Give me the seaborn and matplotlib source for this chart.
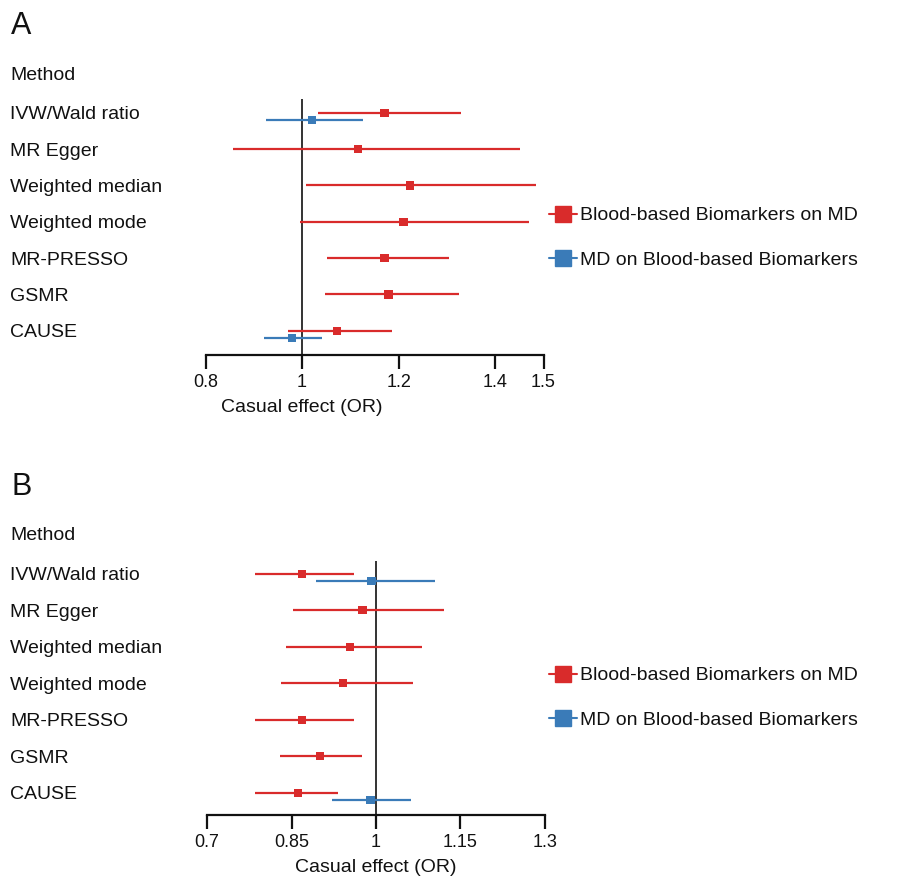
import numpy as np
import pandas as pd
import matplotlib
matplotlib.use('Agg')
import matplotlib.pyplot as plt
import matplotlib.transforms as mtransforms
from matplotlib.lines import Line2D
import seaborn as sns

sns.set_theme(style='ticks')
plt.rcParams['font.family'] = ['Liberation Sans', 'DejaVu Sans']
plt.rcParams['text.color'] = '#111111'

methods = ['IVW/Wald ratio', 'MR Egger', 'Weighted median', 'Weighted mode',
           'MR-PRESSO', 'GSMR', 'CAUSE']
groups = ['Blood-based Biomarkers on MD', 'MD on Blood-based Biomarkers']
palette = {groups[0]: '#d92b2b', groups[1]: '#3a7bb8'}

# panel A : forward direction (all methods)
a_fwd_or = [1.171, 1.116, 1.224, 1.210, 1.171, 1.179, 1.073]
a_fwd_lo = [1.033, 0.856, 1.008, 0.996, 1.052, 1.047, 0.970]
a_fwd_hi = [1.329, 1.451, 1.484, 1.471, 1.305, 1.326, 1.187]
# panel A : reverse direction
a_rev_methods = ['IVW/Wald ratio', 'CAUSE']
a_rev_or = [1.021, 0.979]
a_rev_lo = [0.925, 0.921]
a_rev_hi = [1.127, 1.041]
a_ticks = [0.8, 1, 1.2, 1.4, 1.5]
a_ticklabels = ['0.8', '1', '1.2', '1.4', '1.5']

# panel B : forward direction
b_fwd_or = [0.869, 0.976, 0.954, 0.941, 0.869, 0.900, 0.861]
b_fwd_lo = [0.785, 0.852, 0.841, 0.832, 0.785, 0.830, 0.786]
b_fwd_hi = [0.961, 1.120, 1.082, 1.065, 0.961, 0.976, 0.933]
# panel B : reverse direction
b_rev_methods = ['IVW/Wald ratio', 'CAUSE']
b_rev_or = [0.992, 0.990]
b_rev_lo = [0.894, 0.922]
b_rev_hi = [1.104, 1.063]
b_ticks = [0.7, 0.85, 1, 1.15, 1.3]
b_ticklabels = ['0.7', '0.85', '1', '1.15', '1.3']

offsets = {groups[0]: -0.06, groups[1]: 0.14}


def make_df(fwd_or, fwd_lo, fwd_hi, rev_methods, rev_or, rev_lo, rev_hi):
    d1 = pd.DataFrame({'method': methods, 'or': fwd_or, 'lo': fwd_lo, 'hi': fwd_hi,
                       'group': groups[0]})
    d2 = pd.DataFrame({'method': rev_methods, 'or': rev_or, 'lo': rev_lo, 'hi': rev_hi,
                       'group': groups[1]})
    df = pd.concat([d1, d2], ignore_index=True)
    df['y'] = df['method'].map({m: i for i, m in enumerate(methods)}) + df['group'].map(offsets)
    return df


def forest(fig, rect, df, xlim, ylim, ticks, ticklabels, letter, letter_y, legend_y):
    ax = fig.add_axes(rect)
    for g in groups:
        sub = df[df['group'] == g]
        ax.hlines(sub['y'], sub['lo'], sub['hi'], color=palette[g], lw=1.6, zorder=2)
    sns.scatterplot(data=df, x='or', y='y', hue='group', palette=palette, marker='s',
                    s=36, linewidth=0, legend=False, ax=ax, zorder=3)
    ax.axvline(1, color='#333333', lw=1.4, zorder=1)
    ax.set_xlim(*xlim)
    ax.set_ylim(*ylim)
    ax.set_xticks(ticks)
    ax.set_xticklabels(ticklabels)
    ax.set_yticks([])
    ax.set_ylabel('')
    ax.set_xlabel('')
    ax.tick_params(axis='x', length=10, width=1.6, pad=3.5, labelsize=13, colors='#111111')
    sns.despine(ax=ax, left=True)
    ax.spines['bottom'].set_linewidth(1.6)
    ax.spines['bottom'].set_color('#111111')
    ax.annotate('Casual effect (OR)', xy=(1, 0), xycoords=('data', 'axes fraction'),
                xytext=(0, -53), textcoords='offset pixels', ha='center', va='center',
                fontsize=14)

    trans = mtransforms.blended_transform_factory(fig.transFigure, ax.transData)
    ax.text(10 / 909, -1.1, 'Method', transform=trans, ha='left', va='center', fontsize=14)
    for i, m in enumerate(methods):
        ax.text(10 / 909, i, m, transform=trans, ha='left', va='center', fontsize=14)

    fig.text(11 / 909, letter_y, letter, fontsize=22, ha='left', va='center')

    handles = [Line2D([0], [0], color=palette[g], marker='s', markersize=11, lw=1.5)
               for g in groups]
    fig.legend(handles, groups, loc='center left', bbox_to_anchor=(549 / 909, legend_y),
               frameon=False, fontsize=14, handlelength=1.45, handletextpad=0.15,
               labelspacing=1.4, borderpad=0, borderaxespad=0)
    return ax


fig = plt.figure(figsize=(9.09, 8.77), dpi=100)
H = 877

df_a = make_df(a_fwd_or, a_fwd_lo, a_fwd_hi, a_rev_methods, a_rev_or, a_rev_lo, a_rev_hi)
df_b = make_df(b_fwd_or, b_fwd_lo, b_fwd_hi, b_rev_methods, b_rev_or, b_rev_lo, b_rev_hi)

forest(fig, [205.5 / 909, 1 - 355 / H, 338 / 909, 256 / H], df_a,
       (0.8, 1.5), (6.61, -0.44), a_ticks, a_ticklabels, 'A', 1 - 26 / H, 1 - 238 / H)
forest(fig, [207 / 909, 1 - 815 / H, 338 / 909, 254 / H], df_b,
       (0.7, 1.3), (6.55, -0.41), b_ticks, b_ticklabels, 'B', 1 - 487 / H, 1 - 698 / H)

plt.savefig('out.png', dpi=100)
plt.close()
